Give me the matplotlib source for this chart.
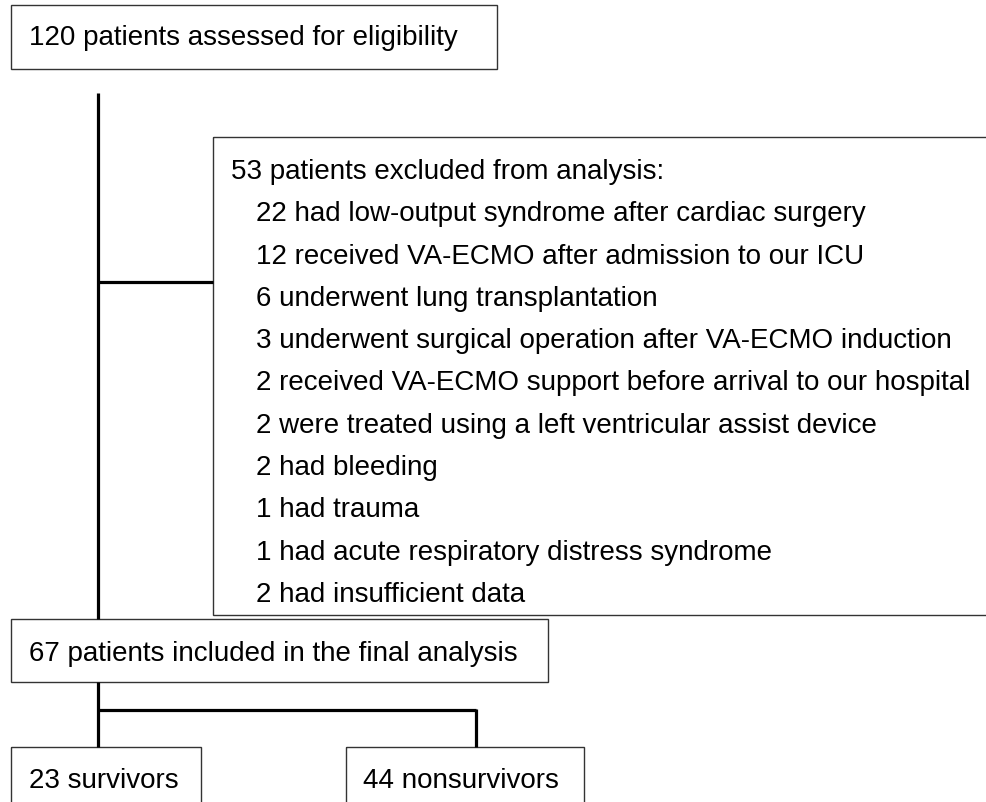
import matplotlib.pyplot as plt
from matplotlib.patches import Rectangle

plt.rcParams['font.family'] = ['Liberation Sans', 'DejaVu Sans']

# texto del diagrama
top_label = "120 patients assessed for eligibility"
excl_header = "53 patients excluded from analysis:"
excl_items = [
    "22 had low-output syndrome after cardiac surgery",
    "12 received VA-ECMO after admission to our ICU",
    "6 underwent lung transplantation",
    "3 underwent surgical operation after VA-ECMO induction",
    "2 received VA-ECMO support before arrival to our hospital",
    "2 were treated using a left ventricular assist device",
    "2 had bleeding",
    "1 had trauma",
    "1 had acute respiratory distress syndrome",
    "2 had insufficient data",
]
included_label = "67 patients included in the final analysis"
outcome_labels = ["23 survivors", "44 nonsurvivors"]

W, H = 986, 802
fig = plt.figure(figsize=(W / 100, H / 100), dpi=100)
ax = fig.add_axes([0, 0, 1, 1])
ax.set_xlim(0, W)
ax.set_ylim(H, 0)
ax.axis('off')

fs = 20
box_kw = dict(fill=False, edgecolor='#333333', linewidth=1.0)
line_kw = dict(color='black', linewidth=2.3, solid_capstyle='butt')

# cajas (x, y, ancho, alto) en pixeles
ax.add_patch(Rectangle((11, 5), 486, 64, **box_kw))
ax.add_patch(Rectangle((213, 137), 900, 478, **box_kw))
ax.add_patch(Rectangle((11, 619), 537, 63, **box_kw))
ax.add_patch(Rectangle((11, 747), 190, 120, **box_kw))
ax.add_patch(Rectangle((346, 747), 238, 120, **box_kw))

# conectores
ax.plot([98, 98], [93, 619], **line_kw)
ax.plot([98, 213], [282, 282], **line_kw)
ax.plot([98, 98], [682, 747], **line_kw)
ax.plot([98, 476], [710, 710], **line_kw)
ax.plot([476, 476], [709, 747], **line_kw)

# textos
ax.text(29, 45, top_label, fontsize=fs, va='baseline', ha='left')
ax.text(231, 179, excl_header, fontsize=fs, va='baseline', ha='left')
for i, item in enumerate(excl_items):
    ax.text(256, 179 + 42.3 * (i + 1), item, fontsize=fs, va='baseline', ha='left')
ax.text(29, 661, included_label, fontsize=fs, va='baseline', ha='left')
ax.text(29, 788, outcome_labels[0], fontsize=fs, va='baseline', ha='left')
ax.text(363, 788, outcome_labels[1], fontsize=fs, va='baseline', ha='left')

fig.savefig('out.png', dpi=100, facecolor='white')
